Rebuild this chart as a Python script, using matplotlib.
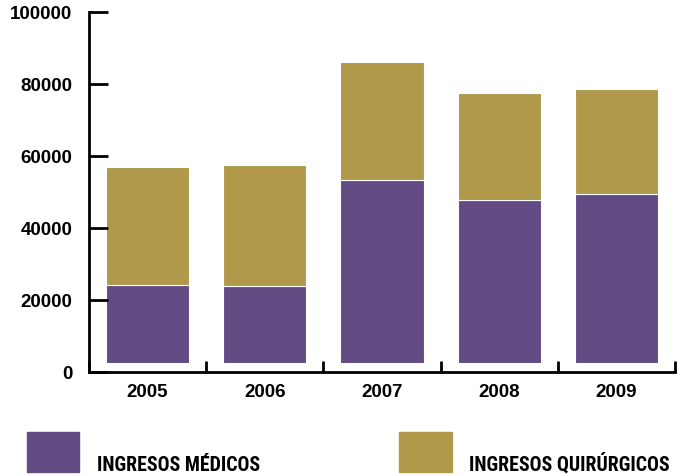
import matplotlib
matplotlib.use("Agg")
import matplotlib.pyplot as plt
from matplotlib import font_manager
from matplotlib.patches import Rectangle

years = ["2005", "2006", "2007", "2008", "2009"]
medicos = [24300, 23800, 53400, 47800, 49400]          # top of purple segment
quirurgicos = [32700, 33700, 32700, 29800, 29100]      # gold segment height
yticks = [0, 20000, 40000, 60000, 80000, 100000]
legend_labels = ["INGRESOS MÉDICOS", "INGRESOS QUIRÚRGICOS"]

c_med = "#624a83"
c_qui = "#b0994a"
base = 2400  # visual gap between axis and bars

names = {f.name for f in font_manager.fontManager.ttflist}
narrow = "Liberation Sans Narrow" if "Liberation Sans Narrow" in names else "Roboto Condensed" if "Roboto Condensed" in names else "Liberation Sans"

fig = plt.figure(figsize=(6.78, 4.77), dpi=100)
ax = fig.add_axes([89/678, (477-373)/477, 586/678, 360/477])

x = list(range(len(years)))
h_med = [m - base for m in medicos]
ax.bar(x, h_med, bottom=base, width=0.71, color=c_med, edgecolor="white", linewidth=0.8)
ax.bar(x, quirurgicos, bottom=medicos, width=0.71, color=c_qui, edgecolor="white", linewidth=0.8)

ax.set_xlim(-0.5, len(years) - 0.5)
ax.set_ylim(0, 100000)
for s in ["top", "right"]:
    ax.spines[s].set_visible(False)
for s in ["left", "bottom"]:
    ax.spines[s].set_linewidth(2)
    ax.spines[s].set_capstyle("projecting")

ax.set_yticks(yticks)
ax.set_yticklabels([str(v) for v in yticks], fontfamily="Liberation Sans", fontweight="bold", fontsize=13.5)
ax.tick_params(axis="y", direction="in", length=14, width=2, pad=12)

ax.set_xticks([i - 0.5 for i in range(len(years) + 1)])
ax.set_xticklabels([])
ax.set_xticks(x, minor=True)
ax.set_xticklabels(years, minor=True, fontfamily="Liberation Sans", fontweight="bold", fontsize=13.5)
ax.tick_params(axis="x", which="major", direction="in", length=8, width=2)
ax.tick_params(axis="x", which="minor", length=0, pad=8)

# legend
fig.patches.append(Rectangle((27/678, 4/477), 52/678, 40/477, transform=fig.transFigure, color=c_med))
fig.patches.append(Rectangle((399/678, 4/477), 53/678, 40/477, transform=fig.transFigure, color=c_qui))
fig.text(97/678, 6/477, legend_labels[0], fontfamily=narrow, fontweight="bold", fontsize=14.3, ha="left", va="baseline")
fig.text(469/678, 6/477, legend_labels[1], fontfamily=narrow, fontweight="bold", fontsize=14.3, ha="left", va="baseline")

fig.savefig("out.png", dpi=100)
